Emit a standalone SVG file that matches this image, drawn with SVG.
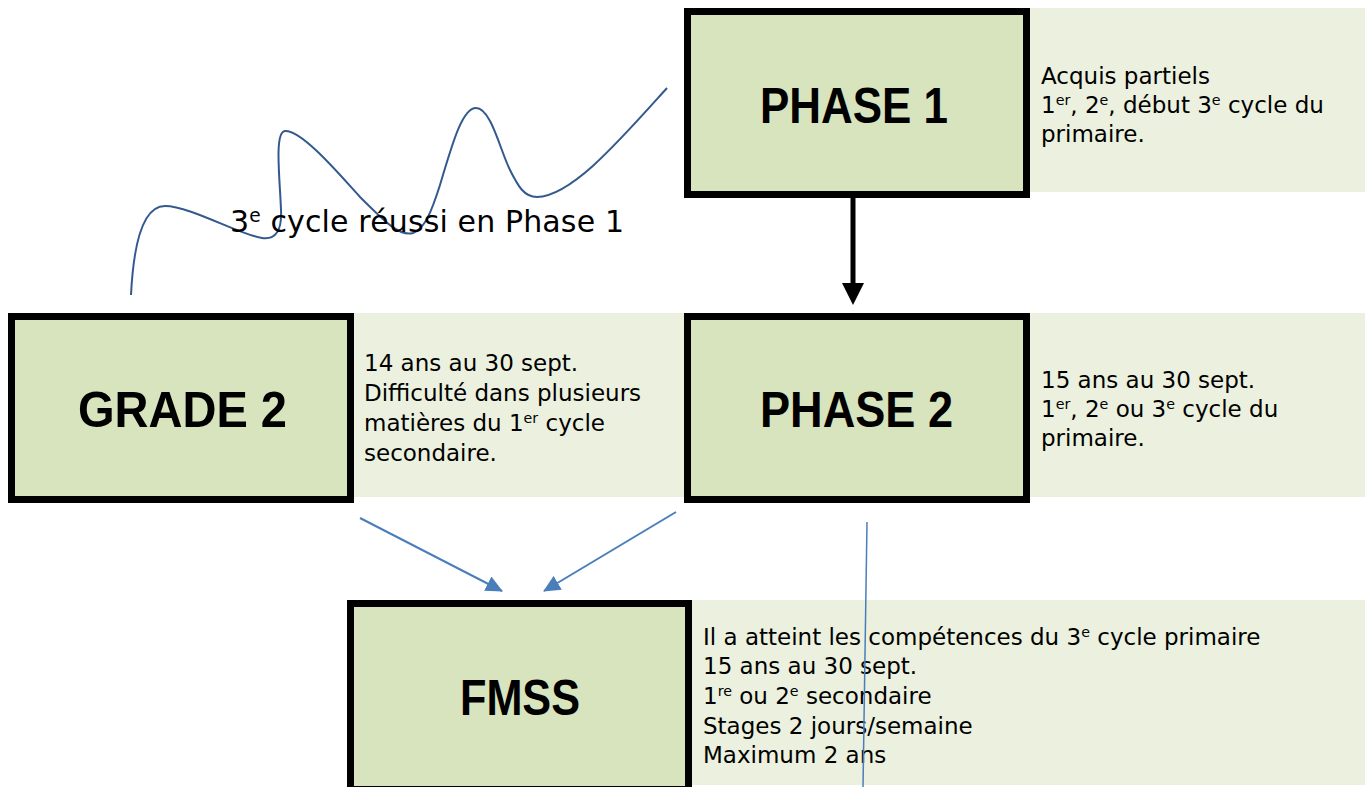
<svg xmlns="http://www.w3.org/2000/svg" width="1371" height="787" viewBox="0 0 1371 787">
<style>
.box{fill:#d7e4bd;stroke:#000;stroke-width:7}
.panel{fill:#ebf1de}
.head{font-family:"Liberation Sans",Arial,sans-serif;font-weight:bold;font-size:50px;fill:#000}
.body{font-family:"DejaVu Sans","Liberation Sans",sans-serif;font-size:23px;fill:#000}
.sup{font-size:62%;baseline-shift:super}
.blue{stroke:#4a7ebb;stroke-width:2;fill:none}
</style>
<defs>
<marker id="ab" markerUnits="userSpaceOnUse" markerWidth="18" markerHeight="16" refX="16" refY="8" orient="auto">
<path d="M0,0 L17,8 L0,16 Z" fill="#4a7ebb"/>
</marker>
</defs>
<rect width="1371" height="787" fill="#fff"/>
<g id="phase1">
<rect class="panel" x="1030" y="8" width="335" height="184"/>
<rect class="box" x="687.5" y="11.5" width="339" height="183"/>
<text class="head" x="760" y="123" textLength="188" lengthAdjust="spacingAndGlyphs">PHASE 1</text>
<text class="body" x="1041" y="84">Acquis partiels</text>
<text class="body" x="1041" y="113">1<tspan class="sup">er</tspan>, 2<tspan class="sup">e</tspan>, début 3<tspan class="sup">e</tspan> cycle du</text>
<text class="body" x="1041" y="142">primaire.</text>
</g>
<g id="grade2">
<rect class="panel" x="354" y="313" width="332" height="184"/>
<rect class="box" x="11.5" y="316.5" width="339" height="183"/>
<text class="head" x="78" y="427" textLength="209" lengthAdjust="spacingAndGlyphs">GRADE 2</text>
<text class="body" x="364" y="371">14 ans au 30 sept.</text>
<text class="body" x="364" y="401">Difficulté dans plusieurs</text>
<text class="body" x="364" y="431">matières du 1<tspan class="sup">er</tspan> cycle</text>
<text class="body" x="364" y="461">secondaire.</text>
</g>
<g id="phase2">
<rect class="panel" x="1030" y="313" width="335" height="184"/>
<rect class="box" x="687.5" y="316.5" width="339" height="183"/>
<text class="head" x="760" y="427" textLength="193" lengthAdjust="spacingAndGlyphs">PHASE 2</text>
<text class="body" x="1041" y="388">15 ans au 30 sept.</text>
<text class="body" x="1041" y="417">1<tspan class="sup">er</tspan>, 2<tspan class="sup">e</tspan> ou 3<tspan class="sup">e</tspan> cycle du</text>
<text class="body" x="1041" y="446">primaire.</text>
</g>
<g id="fmss">
<rect class="panel" x="692" y="600" width="673" height="185"/>
<rect class="box" x="350.5" y="603.5" width="338" height="186"/>
<text class="head" x="460" y="715" textLength="120" lengthAdjust="spacingAndGlyphs">FMSS</text>
<text class="body" x="703" y="645">Il a atteint les compétences du 3<tspan class="sup">e</tspan> cycle primaire</text>
<text class="body" x="703" y="674">15 ans au 30 sept.</text>
<text class="body" x="703" y="704">1<tspan class="sup">re</tspan> ou 2<tspan class="sup">e</tspan> secondaire</text>
<text class="body" x="703" y="734">Stages 2 jours/semaine</text>
<text class="body" x="703" y="763">Maximum 2 ans</text>
</g>
<g id="connectors">
<line x1="853" y1="198" x2="853" y2="286" stroke="#000" stroke-width="5"/>
<path d="M842,283 L864,283 L853,305 Z" fill="#000"/>
<line class="blue" x1="360" y1="518" x2="502" y2="591" marker-end="url(#ab)"/>
<line class="blue" x1="676" y1="512" x2="544" y2="591" marker-end="url(#ab)"/>
<line x1="867" y1="522" x2="863" y2="787" stroke="#4a7ebb" stroke-width="1.5"/>
<path d="M131,295 C134,235 145,206 165,206 C190,206 240,235 262,238 C276,240 282,230 281,210 C280,180 274,132 285,131 C302,130 340,175 360,197 C385,222 400,237 413,233 C425,229 432,210 440,185 C452,145 462,108 476,108 C491,108 500,150 510,170 C518,186 524,197 537,197 C572,196 620,140 667,88" fill="none" stroke="#34598f" stroke-width="2"/>
<text class="body" x="230" y="232" style="font-size:30px" textLength="394" lengthAdjust="spacing">3<tspan class="sup">e</tspan> cycle réussi en Phase 1</text>
</g>
</svg>
